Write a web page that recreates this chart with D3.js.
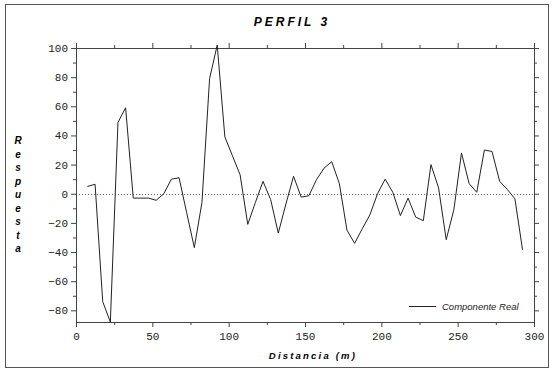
<!DOCTYPE html>
<html>
<head>
<meta charset="utf-8">
<script src="https://cdn.jsdelivr.net/npm/d3@7"></script>
<style>
  body { margin: 0; background: #fff; }
  svg { display: block; }
</style>
</head>
<body>
<script>
// Data
var distancia = [7.5, 12.5, 17.5, 22.5, 27.5, 32.5, 37.5, 42.5, 47.5, 52.5,
  57.5, 62.5, 67.5, 72.5, 77.5, 82.5, 87.5, 92.5, 97.5, 102.5,
  107.5, 112.5, 117.5, 122.5, 127.5, 132.5, 137.5, 142.5, 147.5, 152.5,
  157.5, 162.5, 167.5, 172.5, 177.5, 182.5, 187.5, 192.5, 197.5, 202.5,
  207.5, 212.5, 217.5, 222.5, 227.5, 232.5, 237.5, 242.5, 247.5, 252.5,
  257.5, 262.5, 267.5, 272.5, 277.5, 282.5, 287.5, 292.5];
var componenteReal = [5, 6.5, -74, -88, 49, 59, -3, -3, -3, -4.5,
  0, 10, 11, -13, -37, -6, 79, 102, 39, 26,
  13, -21, -6, 8.5, -4, -27, -7, 12, -2.3, -1.4,
  9.6, 17.6, 22, 7, -25, -34, -24, -14.5, 0, 10,
  1, -15, -3, -16, -18.5, 20, 4, -31.5, -11, 28,
  7, 1, 30, 29, 8.5, 3, -3.5, -38.5];
var xTicks = [0, 50, 100, 150, 200, 250, 300];
var yTicks = [-80, -60, -40, -20, 0, 20, 40, 60, 80, 100];
var xMinor = [25, 75, 125, 175, 225, 275];
var yMinor = [-70, -50, -30, -10, 10, 30, 50, 70, 90];

var W = 554, H = 372;
var plotLeft = 76, plotRight = 534, plotTop = 48, plotBottom = 322;
var axisColor = "#444";

var svg = d3.select("body").append("svg")
    .attr("width", W)
    .attr("height", H);

// outer frame
svg.append("rect")
    .attr("x", 5.5).attr("y", 4.5)
    .attr("width", 543).attr("height", 363)
    .attr("fill", "none")
    .attr("stroke", "#555");

var x = d3.scaleLinear().domain([0, 300]).range([plotLeft, plotRight]);
var y = d3.scaleLinear().domain([-88, 100]).range([plotBottom, plotTop]);

// zero reference line
svg.append("line")
    .attr("x1", plotLeft).attr("x2", plotRight)
    .attr("y1", Math.round(y(0)) + 0.5).attr("y2", Math.round(y(0)) + 0.5)
    .attr("stroke", "#666")
    .attr("stroke-width", 1)
    .attr("stroke-dasharray", "1,2");

function styleAxis(g) {
  g.selectAll(".domain").attr("stroke", axisColor);
  g.selectAll(".tick line").attr("stroke", axisColor);
  g.selectAll(".tick text")
      .attr("fill", "#222")
      .style("font-family", "'Liberation Mono', monospace")
      .style("font-size", "11px");
}

// major axes
svg.append("g")
    .attr("transform", "translate(0," + plotBottom + ")")
    .call(d3.axisBottom(x).tickValues(xTicks).tickSize(5).tickSizeOuter(0).tickPadding(5))
    .call(styleAxis);
svg.append("g")
    .attr("transform", "translate(0," + plotTop + ")")
    .call(d3.axisTop(x).tickValues(xTicks).tickSize(5).tickSizeOuter(0).tickFormat(""))
    .call(styleAxis);
svg.append("g")
    .attr("transform", "translate(" + plotLeft + ",0)")
    .call(d3.axisLeft(y).tickValues(yTicks).tickSize(5).tickSizeOuter(0).tickPadding(3))
    .call(styleAxis);
svg.append("g")
    .attr("transform", "translate(" + plotRight + ",0)")
    .call(d3.axisRight(y).tickValues(yTicks).tickSize(5).tickSizeOuter(0).tickFormat(""))
    .call(styleAxis);

// minor ticks
svg.append("g")
    .attr("transform", "translate(0," + plotBottom + ")")
    .call(d3.axisBottom(x).tickValues(xMinor).tickSize(3).tickSizeOuter(0).tickFormat(""))
    .call(styleAxis);
svg.append("g")
    .attr("transform", "translate(0," + plotTop + ")")
    .call(d3.axisTop(x).tickValues(xMinor).tickSize(3).tickSizeOuter(0).tickFormat(""))
    .call(styleAxis);
svg.append("g")
    .attr("transform", "translate(" + plotLeft + ",0)")
    .call(d3.axisLeft(y).tickValues(yMinor).tickSize(3).tickSizeOuter(0).tickFormat(""))
    .call(styleAxis);
svg.append("g")
    .attr("transform", "translate(" + plotRight + ",0)")
    .call(d3.axisRight(y).tickValues(yMinor).tickSize(3).tickSizeOuter(0).tickFormat(""))
    .call(styleAxis);

// data line
var data = distancia.map(function(d, i) { return { x: d, y: componenteReal[i] }; });
var line = d3.line()
    .x(function(d) { return x(d.x); })
    .y(function(d) { return y(d.y); });

svg.append("path")
    .datum(data)
    .attr("fill", "none")
    .attr("stroke", "#222")
    .attr("stroke-width", 1)
    .attr("d", line);

// title
svg.append("text")
    .attr("x", 292).attr("y", 26)
    .attr("text-anchor", "middle")
    .style("font-family", "'Liberation Sans', Arial, sans-serif")
    .style("font-size", "12px")
    .style("font-weight", "bold")
    .style("font-style", "italic")
    .style("letter-spacing", "3px")
    .text("PERFIL 3");

// x axis label
svg.append("text")
    .attr("x", 313).attr("y", 359)
    .attr("text-anchor", "middle")
    .style("font-family", "'Liberation Sans', Arial, sans-serif")
    .style("font-size", "9.5px")
    .style("font-weight", "bold")
    .style("font-style", "italic")
    .style("letter-spacing", "2.2px")
    .text("Distancia (m)");

// y axis label, stacked letters
var yLabel = "Respuesta".split("");
svg.append("g").selectAll("text")
    .data(yLabel)
    .join("text")
    .attr("x", 18)
    .attr("y", function(d, i) { return 144 + i * 13.5; })
    .attr("text-anchor", "middle")
    .style("font-family", "'Liberation Sans', Arial, sans-serif")
    .style("font-size", "10px")
    .style("font-weight", "bold")
    .style("font-style", "italic")
    .text(function(d) { return d; });

// legend
svg.append("line")
    .attr("x1", 409).attr("x2", 436)
    .attr("y1", 306.5).attr("y2", 306.5)
    .attr("stroke", "#222");
svg.append("text")
    .attr("x", 442).attr("y", 310)
    .style("font-family", "'Liberation Sans', Arial, sans-serif")
    .style("font-size", "9.5px")
    .style("font-style", "italic")
    .attr("fill", "#222")
    .text("Componente Real");
</script>
</body>
</html>
